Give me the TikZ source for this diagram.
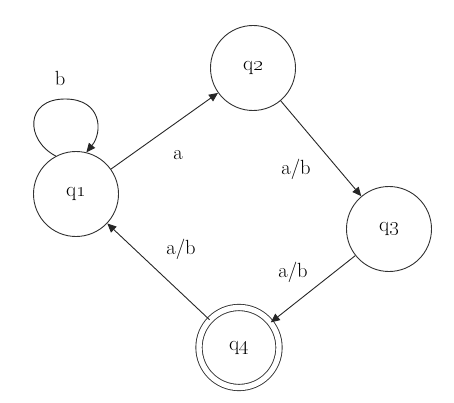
\documentclass[tikz,border=0pt]{standalone}
\usetikzlibrary{arrows.meta}
\begin{document}
\begin{tikzpicture}[x=1pt,y=-1pt,
  state/.style={draw=black!80,circle,minimum size=85pt,inner sep=0pt,line width=0.9pt,font=\fontsize{21}{24}\selectfont},
  accept/.style={state,double=white,double distance=5.4pt,minimum size=80pt},
  lbl/.style={font=\fontsize{20.5}{24}\selectfont,inner sep=0pt},
  edge/.style={draw=black!85,line width=0.9pt,-{Triangle[length=9pt,width=8pt]}}]
\useasboundingbox (0,0) rectangle (454,403);
\node[state] (q1) at (76,194) {q\oldstylenums{1}};
\node[state] (q2) at (253,68) {q\oldstylenums{2}};
\node[state] (q3) at (389,229) {q\oldstylenums{3}};
\node[accept] (q4) at (239,347.5) {q\oldstylenums{4}};
\draw[edge] (q1) -- (q2);
\draw[edge] (q2) -- (q3);
\draw[edge] (q3) -- (q4);
\draw[edge] (q4) -- (q1);
\draw[edge] (q1.118) .. controls (25,140) and (25,99) .. (65,99) .. controls (102,99) and (103,132) .. (q1.76);
\node[lbl] at (60,78) {b};
\node[lbl] at (178,155) {a};
\node[lbl] at (296,169) {a/b};
\node[lbl] at (181,249) {a/b};
\node[lbl] at (293,272) {a/b};
\end{tikzpicture}
\end{document}
